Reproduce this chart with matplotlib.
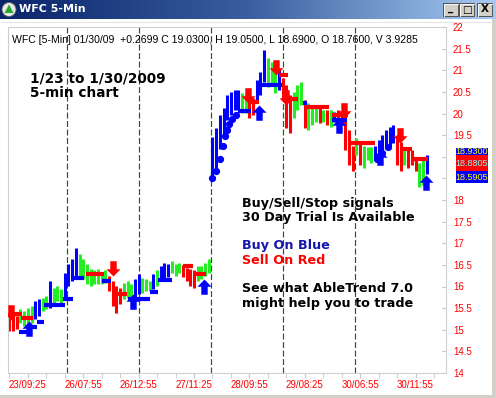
import matplotlib
matplotlib.use("Agg")
import matplotlib.pyplot as plt
from matplotlib.path import Path
from matplotlib.markers import MarkerStyle
from matplotlib.patches import Rectangle, Circle, Polygon
from matplotlib.colors import LinearSegmentedColormap
import numpy as np

W, H = 496, 398

# ---------------- data ----------------
# 5-minute bars, sampled every 4th bar (bar number from left edge)
bar_index = list(range(0, 456, 4))
bar_high = [15.51, 15.39, 15.32, 15.48, 15.44, 15.51, 15.55, 15.67, 15.72, 15.74,
            15.79, 16.13, 15.97, 16.02, 15.95, 16.32, 16.53, 16.64, 16.88, 16.76,
            16.64, 16.53, 16.41, 16.37, 16.41, 16.32, 16.37, 16.25, 16.13, 16.02,
            15.97, 16.09, 16.13, 16.06, 16.18, 16.30, 16.20, 16.18, 16.13, 16.30,
            16.37, 16.48, 16.55, 16.53, 16.60, 16.53, 16.55, 16.50, 16.43, 16.41,
            16.37, 16.48, 16.48, 16.55, 16.64, 19.45, 19.66, 19.96, 20.12, 20.42,
            20.49, 20.54, 20.54, 20.47, 20.42, 20.38, 20.35, 20.77, 20.96, 21.47,
            21.28, 21.19, 20.96, 21.00, 20.82, 20.66, 20.42, 20.49, 20.66, 20.72,
            20.31, 20.24, 20.12, 20.12, 20.12, 20.08, 20.08, 20.08, 20.03, 20.08,
            20.03, 20.01, 19.61, 19.26, 19.43, 19.31, 19.26, 19.22, 19.22, 19.26,
            19.38, 19.50, 19.61, 19.68, 19.73, 19.50, 19.33, 19.22, 19.19, 19.15,
            18.99, 18.85, 18.92, 19.05]
bar_low = [14.97, 14.97, 15.02, 15.16, 15.09, 15.04, 15.16, 15.25, 15.32, 15.44,
           15.48, 15.51, 15.62, 15.67, 15.62, 15.74, 16.02, 16.13, 16.25, 16.25,
           16.18, 16.06, 16.02, 16.06, 16.06, 16.06, 16.09, 15.90, 15.55, 15.39,
           15.60, 15.72, 15.74, 15.67, 15.72, 15.83, 15.86, 15.90, 15.90, 15.95,
           16.02, 16.13, 16.20, 16.23, 16.32, 16.25, 16.32, 16.23, 16.13, 16.02,
           15.97, 16.13, 16.18, 16.25, 16.32, 18.52, 18.68, 19.19, 19.50, 19.84,
           19.96, 20.08, 20.08, 20.01, 20.01, 19.89, 19.96, 20.26, 20.42, 20.72,
           20.61, 20.66, 20.47, 20.54, 20.31, 19.66, 19.54, 19.89, 20.08, 20.19,
           19.66, 19.61, 19.73, 19.80, 19.77, 19.80, 19.73, 19.68, 19.80, 19.77,
           19.73, 19.15, 18.80, 18.68, 19.03, 18.80, 18.75, 18.92, 18.85, 18.92,
           19.03, 19.08, 19.19, 19.26, 19.31, 18.80, 18.68, 18.80, 18.73, 18.80,
           18.68, 18.29, 18.34, 18.60]
bar_trend = ("rrrggggbbg" "gbgggbbbbg" "gggggggrrr" "rgggbbgggb" "gbbbgggrrr"
             "rggggbbbbb" "bbbggrrbbb" "gggbrrrggg" "rgggrgrgbr" "rrrrgrgggb"
             "bbbbbrrgrr" "rggb")

# stop levels: (first bar, last bar, price)
red_stops = [(5, 14, 15.37), (13, 26, 15.28), (83, 103, 16.28), (114, 127, 15.82),
             (188, 199, 16.48), (200, 213, 16.28), (258, 270, 20.26), (292, 302, 20.88),
             (302, 313, 20.33), (322, 346, 20.14), (349, 367, 19.97), (370, 396, 19.32),
             (423, 436, 19.17), (436, 454, 18.95)]
blue_stops = [(10, 20, 14.95), (24, 30, 15.07), (30, 38, 15.17), (38, 60, 15.57),
              (58, 69, 15.70), (67, 81, 16.20), (100, 110, 16.13), (129, 152, 15.70),
              (152, 161, 15.87), (161, 176, 16.15), (248, 262, 20.05), (273, 295, 20.66),
              (318, 322, 20.24), (350, 366, 19.84)]
blue_dot_bar = [220, 224, 228, 231, 234, 236, 238, 241, 245, 398, 404, 410]
blue_dot_price = [18.52, 18.68, 18.94, 19.26, 19.47, 19.61, 19.75, 19.87, 19.96,
                  18.95, 19.08, 19.22]

# signals: (bar, tip price)
sell_bar = [2, 112, 259, 289, 300, 363, 423]
sell_price = [15.23, 16.25, 20.24, 20.89, 20.19, 19.89, 19.31]
buy_bar = [21, 134, 211, 270, 357, 401, 451]
buy_price = [15.21, 15.83, 16.18, 20.19, 19.89, 19.15, 18.57]

day_starts = [62, 140, 218, 296, 374]
x_tick_bars = [20, 80, 140, 200, 260, 320, 380, 440]
x_tick_labels = ["23/09:25", "26/07:55", "26/12:55", "27/11:25",
                 "28/09:55", "29/08:25", "30/06:55", "30/11:55"]
y_ticks = [14, 14.5, 15, 15.5, 16, 16.5, 17, 17.5, 18, 18.5, 19, 19.5, 20, 20.5, 21, 21.5, 22]
# "18.5" and "19" are hidden behind the last-value boxes in the original
y_tick_labels = ["14", "14.5", "15", "15.5", "16", "16.5", "17", "17.5", "18",
                 "", "", "19.5", "20", "20.5", "21", "21.5", "22"]
header = "WFC [5-Min] 01/30/09  +0.2699 C 19.0300, H 19.0500, L 18.6900, O 18.7600, V 3.9285"
last_values = ["18.9300", "18.8805", "18.5905"]

# ---------------- figure ----------------
fig = plt.figure(figsize=(W / 100, H / 100), dpi=100)
fig.patch.set_facecolor("white")

def fx(x):
    return x / W

def fy(y):
    return 1 - y / H

# background / window frame
bg = fig.add_axes([0, 0, 1, 1], zorder=0)
bg.set_xlim(0, W); bg.set_ylim(H, 0); bg.axis("off")
bg.add_patch(Rectangle((0, 19), W, H - 19, fc="white", ec="none"))
bg.add_patch(Rectangle((492, 19), 4, H - 19, fc="#d4d0c8", ec="none"))
bg.add_patch(Rectangle((0, 395), W, 3, fc="#d4d0c8", ec="none"))
bg.plot([2, 492], [21.5, 21.5], color="#e4e4e4", lw=0.8)

# title bar
tb = fig.add_axes([0, fy(19), 1, 19 / H], zorder=1)
cmap = LinearSegmentedColormap.from_list("tb", ["#0a246a", "#3a5ea0", "#a6caf0"])
tb.imshow(np.linspace(0, 1, 256)[None, :], cmap=cmap, aspect="auto", extent=[0, W, 19, 0])
tb.set_xlim(0, W); tb.set_ylim(19, 0); tb.axis("off")
tb.add_patch(Circle((9, 9.5), 7, fc="#e8e8e8", ec="#606060", lw=0.6))
tb.add_patch(Polygon([(9, 4.5), (4.5, 13), (13.5, 13)], closed=True, fc="#2aa82a", ec="none"))
tb.text(19, 9.5, "WFC 5-Min", color="white", fontsize=8, fontweight="bold",
        va="center", ha="left", family="DejaVu Sans")
for x0, glyph in [(443, "_"), (459, "□"), (477, "X")]:
    tb.add_patch(Rectangle((x0, 3), 15, 13, fc="#d4d0c8", ec="#404040", lw=0.6))
    tb.plot([x0 + 0.5, x0 + 0.5, x0 + 14.5], [15.5, 3.5, 3.5], color="white", lw=0.6)
    tb.text(x0 + 7.5, 9.5 if glyph != "_" else 8, glyph, ha="center", va="center",
            fontsize=7.5, fontweight="bold", color="black")

# main chart
ax = fig.add_axes([fx(8), fy(373), (446 - 8) / W, (373 - 27) / H], zorder=2)
ax.set_facecolor("white")
ax.set_xlim(-1.5, 473)
ax.set_ylim(14, 22)
for s in ax.spines.values():
    s.set_color("#cfcfcf"); s.set_linewidth(0.8)

for d in day_starts:
    ax.axvline(d, color="#007000", lw=0.85, dashes=(5, 2.2), zorder=1)

colmap = {"r": "#ff0000", "g": "#22ee22", "b": "#0000ff"}
bar_colors = [colmap[c] for c in bar_trend]
ax.vlines(bar_index, bar_low, bar_high, colors=bar_colors, lw=2.2, zorder=2)

for a, b, p in red_stops:
    ax.hlines(p, a, b, color="#ff0000", lw=3, zorder=3)
for a, b, p in blue_stops:
    ax.hlines(p, a, b, color="#0000ff", lw=3, zorder=3)
ax.plot(blue_dot_bar, blue_dot_price, ls="none", marker="o", ms=4.2, color="#0000ff", zorder=3)

up_verts = [(0, 0), (-0.92, -0.95), (-0.42, -0.95), (-0.42, -2.0), (0.42, -2.0),
            (0.42, -0.95), (0.92, -0.95), (0, 0)]
codes = [Path.MOVETO] + [Path.LINETO] * 6 + [Path.CLOSEPOLY]
up_marker = MarkerStyle(Path(up_verts, codes))
down_marker = MarkerStyle(Path([(x, -y) for x, y in up_verts], codes))
ax.plot(buy_bar, buy_price, ls="none", marker=up_marker, ms=22, mfc="#0000ff", mec="none", zorder=5)
ax.plot(sell_bar, sell_price, ls="none", marker=down_marker, ms=22, mfc="#ff0000", mec="none", zorder=5)

ax.yaxis.tick_right()
ax.set_yticks(y_ticks)
ax.set_yticklabels(y_tick_labels)
ax.tick_params(axis="y", direction="in", length=3, color="#c8c8c8", pad=5,
               labelcolor="#ff0000", labelsize=7)
ax.set_xticks(x_tick_bars)
ax.set_xticklabels(x_tick_labels)
ax.set_xticks(list(range(0, 474, 20)), minor=True)
ax.tick_params(axis="x", which="both", direction="out", length=3.5, color="#c8c8c8",
               pad=1.5, labelcolor="#ff0000", labelsize=7)
for lab in ax.get_xticklabels() + ax.get_yticklabels():
    lab.set_family("Liberation Sans")

ax.text(0.01, 0.962, header, transform=ax.transAxes, fontsize=7.6, family="Liberation Sans",
        va="center", ha="left", color="black", clip_on=True, zorder=6)

# overlay texts and last-value boxes
ov = fig.add_axes([0, 0, 1, 1], zorder=3)
ov.set_xlim(0, W); ov.set_ylim(H, 0); ov.axis("off"); ov.patch.set_alpha(0)
bold = dict(fontweight="bold", family="DejaVu Sans", fontsize=9.2, va="center", ha="left")
big = dict(bold, fontsize=9.8)
ov.text(30, 78, "1/23 to 1/30/2009", color="black", **big)
ov.text(30, 93, "5-min chart", color="black", **big)
ov.text(242, 203, "Buy/Sell/Stop signals", color="black", **bold)
ov.text(242, 217, "30 Day Trial Is Available", color="black", **bold)
ov.text(242, 246, "Buy On Blue", color="#1515b0", **bold)
ov.text(242, 260, "Sell On Red", color="#ff0000", **bold)
ov.text(242, 289, "See what AbleTrend 7.0", color="black", **bold)
ov.text(242, 303, "might help you to trade", color="black", **bold)

blue_box = Rectangle((456, 148), 32, 35, fc="#0000ff", ec="none")
ov.add_patch(blue_box)
t0 = ov.text(472, 151, last_values[0], color="#ffff00", fontsize=6.5, family="Liberation Sans",
             ha="center", va="center")
t0.set_clip_path(blue_box)
ov.add_patch(Rectangle((456, 155), 32, 16, fc="#ff0000", ec="none"))
ov.text(472, 163, last_values[1], color="#80ffff", fontsize=6.5, family="Liberation Sans",
        ha="center", va="center")
ov.text(472, 177, last_values[2], color="#ffff00", fontsize=6.5, family="Liberation Sans",
        ha="center", va="center")

fig.savefig("out.png", dpi=100)
